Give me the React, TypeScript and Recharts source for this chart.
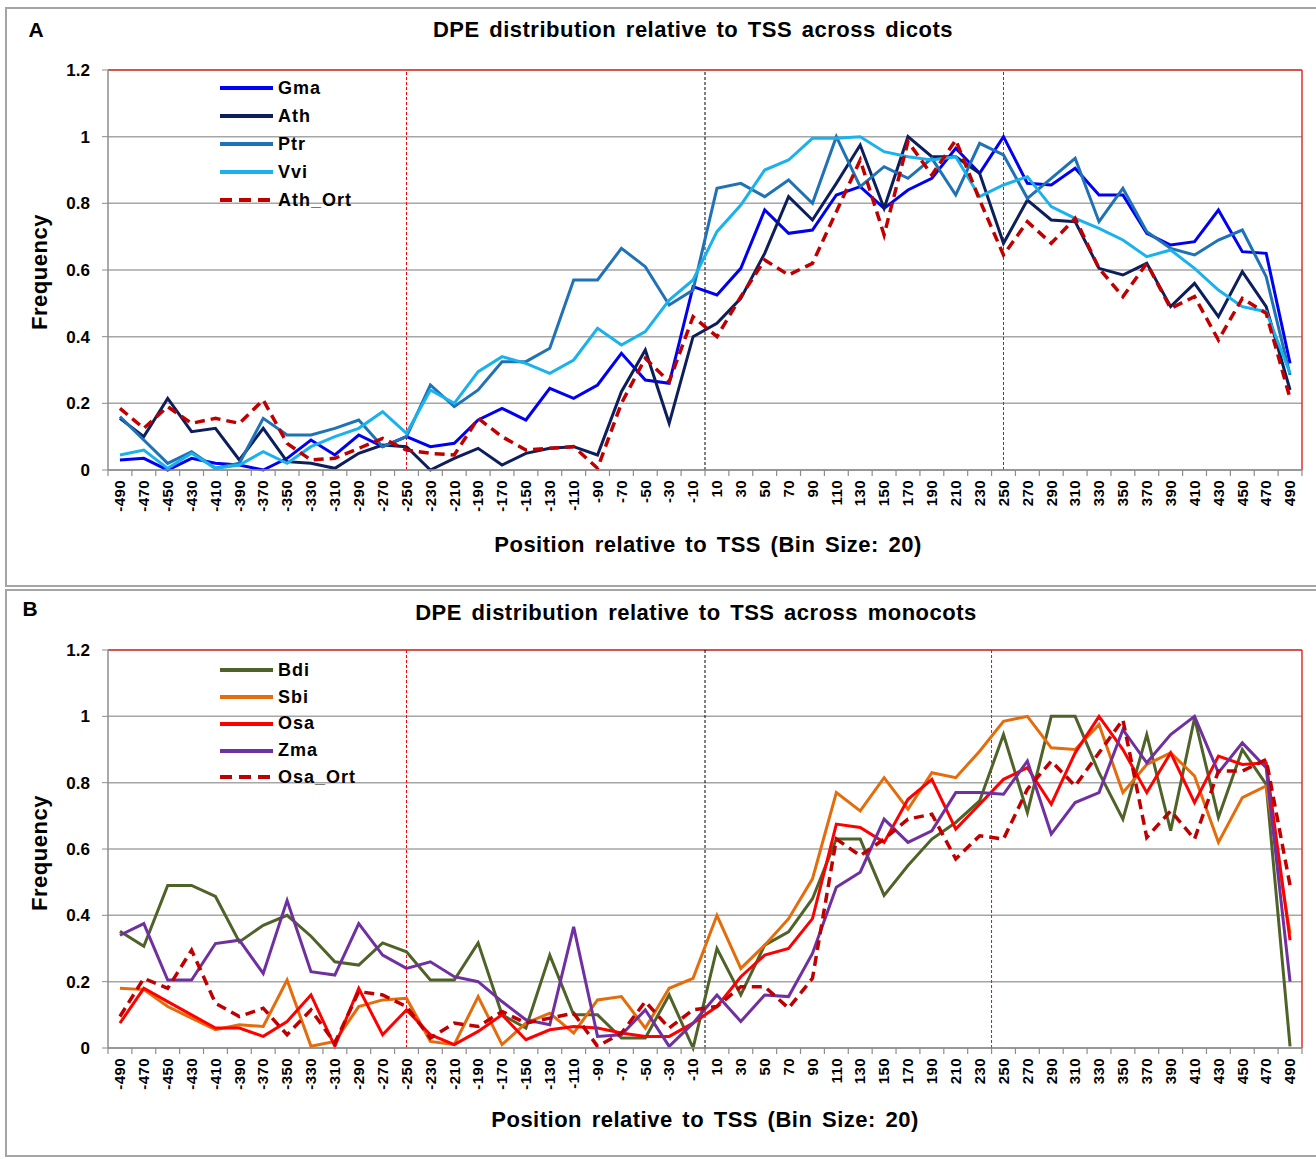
import { LineChart, Line, XAxis, YAxis, CartesianGrid, ReferenceLine, Legend } from 'recharts';

const FONT = '"Liberation Sans", Arial, sans-serif';

// bin centres, relative to TSS
const positions = [
  -490, -470, -450, -430, -410, -390, -370, -350, -330, -310, -290, -270, -250, -230, -210, -190, -170,
  -150, -130, -110, -90, -70, -50, -30, -10, 10, 30, 50, 70, 90, 110, 130, 150, 170, 190, 210, 230, 250,
  270, 290, 310, 330, 350, 370, 390, 410, 430, 450, 470, 490,
];

// panel A - dicots
const gma = [
  0.03, 0.035, 0.0, 0.035, 0.02, 0.015, 0.0, 0.035, 0.09, 0.045, 0.105, 0.07, 0.1, 0.07, 0.08, 0.15, 0.185,
  0.15, 0.245, 0.215, 0.255, 0.35, 0.27, 0.26, 0.55, 0.525, 0.605, 0.78, 0.71, 0.72, 0.825, 0.85, 0.785, 0.84,
  0.875, 0.965, 0.89, 1.0, 0.86, 0.855, 0.905, 0.825, 0.825, 0.71, 0.675, 0.685, 0.78, 0.655, 0.65, 0.32,
];
const ath = [
  0.155, 0.1, 0.215, 0.115, 0.125, 0.03, 0.125, 0.025, 0.02, 0.005, 0.05, 0.075, 0.07, 0.0, 0.035, 0.065, 0.015,
  0.05, 0.065, 0.07, 0.045, 0.235, 0.36, 0.14, 0.4, 0.44, 0.515, 0.65, 0.82, 0.75, 0.86, 0.975, 0.785, 1.0,
  0.94, 0.94, 0.89, 0.68, 0.81, 0.75, 0.745, 0.605, 0.585, 0.62, 0.49, 0.56, 0.46, 0.595, 0.49, 0.24,
];
const ptr = [
  0.16, 0.09, 0.02, 0.055, 0.005, 0.02, 0.155, 0.105, 0.105, 0.125, 0.15, 0.07, 0.1, 0.255, 0.19, 0.24, 0.325,
  0.325, 0.365, 0.57, 0.57, 0.665, 0.61, 0.495, 0.54, 0.845, 0.86, 0.82, 0.87, 0.8, 1.0, 0.85, 0.91, 0.875,
  0.935, 0.825, 0.98, 0.945, 0.815, 0.875, 0.935, 0.745, 0.845, 0.715, 0.665, 0.645, 0.69, 0.72, 0.58, 0.285,
];
const vvi = [
  0.045, 0.06, 0.005, 0.05, 0.005, 0.015, 0.055, 0.02, 0.07, 0.1, 0.125, 0.175, 0.11, 0.24, 0.2, 0.295, 0.34,
  0.32, 0.29, 0.33, 0.425, 0.375, 0.415, 0.51, 0.57, 0.715, 0.795, 0.9, 0.93, 0.995, 0.995, 1.0, 0.955, 0.94,
  0.93, 0.94, 0.82, 0.855, 0.88, 0.79, 0.755, 0.725, 0.69, 0.64, 0.66, 0.605, 0.54, 0.49, 0.475, 0.29,
];
const athOrt = [
  0.185, 0.125, 0.19, 0.14, 0.155, 0.14, 0.21, 0.08, 0.03, 0.035, 0.065, 0.095, 0.06, 0.05, 0.045, 0.155, 0.1,
  0.06, 0.065, 0.07, 0.005, 0.2, 0.335, 0.265, 0.46, 0.4, 0.52, 0.63, 0.585, 0.62, 0.775, 0.93, 0.705, 0.985,
  0.885, 0.99, 0.81, 0.645, 0.745, 0.68, 0.755, 0.605, 0.52, 0.62, 0.485, 0.52, 0.39, 0.515, 0.47, 0.215,
];

// panel B - monocots
const bdi = [
  0.352, 0.307, 0.49, 0.49, 0.457, 0.32, 0.37, 0.4, 0.337, 0.26, 0.25, 0.317, 0.29, 0.205, 0.205, 0.317, 0.1,
  0.06, 0.28, 0.1, 0.1, 0.03, 0.03, 0.16, 0.0, 0.3, 0.16, 0.31, 0.35, 0.45, 0.63, 0.63, 0.46, 0.55, 0.63,
  0.68, 0.745, 0.945, 0.71, 1.0, 1.0, 0.83, 0.69, 0.945, 0.655, 0.995, 0.695, 0.9, 0.795, 0.005,
];
const sbi = [
  0.18, 0.176, 0.125, 0.09, 0.055, 0.07, 0.065, 0.205, 0.005, 0.02, 0.125, 0.145, 0.15, 0.02, 0.01, 0.155, 0.01,
  0.075, 0.105, 0.045, 0.145, 0.155, 0.06, 0.18, 0.21, 0.4, 0.24, 0.31, 0.39, 0.51, 0.77, 0.715, 0.815, 0.72,
  0.83, 0.815, 0.895, 0.985, 1.0, 0.905, 0.9, 0.975, 0.77, 0.855, 0.89, 0.82, 0.62, 0.755, 0.79, 0.345,
];
const osa = [
  0.075, 0.18, 0.14, 0.1, 0.06, 0.06, 0.035, 0.08, 0.16, 0.005, 0.18, 0.04, 0.115, 0.04, 0.01, 0.05, 0.1,
  0.025, 0.055, 0.065, 0.06, 0.045, 0.035, 0.035, 0.075, 0.125, 0.215, 0.28, 0.3, 0.39, 0.675, 0.665, 0.62,
  0.75, 0.81, 0.66, 0.735, 0.81, 0.845, 0.735, 0.89, 1.0, 0.9, 0.77, 0.89, 0.74, 0.88, 0.855, 0.86, 0.325,
];
const zma = [
  0.34, 0.375, 0.205, 0.205, 0.315, 0.325, 0.225, 0.445, 0.23, 0.22, 0.375, 0.28, 0.24, 0.26, 0.215, 0.2, 0.14,
  0.085, 0.07, 0.365, 0.035, 0.04, 0.115, 0.005, 0.075, 0.16, 0.08, 0.16, 0.155, 0.285, 0.485, 0.53, 0.69,
  0.62, 0.655, 0.77, 0.77, 0.765, 0.865, 0.645, 0.74, 0.77, 0.96, 0.86, 0.945, 1.0, 0.83, 0.92, 0.845, 0.2,
];
const osaOrt = [
  0.095, 0.21, 0.18, 0.295, 0.135, 0.095, 0.12, 0.04, 0.115, 0.015, 0.17, 0.16, 0.125, 0.03, 0.075, 0.065, 0.11,
  0.075, 0.09, 0.105, 0.005, 0.045, 0.14, 0.06, 0.115, 0.125, 0.185, 0.185, 0.12, 0.21, 0.63, 0.58, 0.63, 0.69,
  0.705, 0.57, 0.64, 0.63, 0.78, 0.865, 0.79, 0.89, 0.99, 0.635, 0.715, 0.63, 0.835, 0.835, 0.87, 0.49,
];

const yTicks = [0, 0.2, 0.4, 0.6, 0.8, 1, 1.2];
const idxTicks = positions.map((_, i) => i);

type SeriesDef = { key: string; color: string; values: number[]; dashed?: boolean };

const dicotSeries: SeriesDef[] = [
  { key: 'Gma', color: '#0000F2', values: gma },
  { key: 'Ath', color: '#0D1E5C', values: ath },
  { key: 'Ptr', color: '#1F72B6', values: ptr },
  { key: 'Vvi', color: '#1AB2EC', values: vvi },
  { key: 'Ath_Ort', color: '#C00000', values: athOrt, dashed: true },
];

const monocotSeries: SeriesDef[] = [
  { key: 'Bdi', color: '#4F6228', values: bdi },
  { key: 'Sbi', color: '#E46C0A', values: sbi },
  { key: 'Osa', color: '#FF0000', values: osa },
  { key: 'Zma', color: '#7030A0', values: zma },
  { key: 'Osa_Ort', color: '#C00000', values: osaOrt, dashed: true },
];

const GRID = '#a6a6a6';
const AXIS = '#8c8c8c';
const BORDER_RED = '#E0302A';

function PositionTick(props: any) {
  const { x, y, payload, index, width, visibleTicksCount } = props;
  const count = visibleTicksCount || positions.length;
  const half = width ? width / count / 2 : 11.94;
  const axisY = y - 10;
  return (
    <g>
      <line x1={x - half} x2={x - half} y1={axisY} y2={axisY + 6} stroke={AXIS} strokeWidth={1.2} />
      {index === count - 1 && (
        <line x1={x + half} x2={x + half} y1={axisY} y2={axisY + 6} stroke={AXIS} strokeWidth={1.2} />
      )}
      <text
        x={x}
        y={y}
        transform={`rotate(-90, ${x}, ${y})`}
        textAnchor="end"
        dy="0.35em"
        fill="#000"
        fontFamily={FONT}
        fontWeight="bold"
        fontSize={15}
        letterSpacing={0.4}
      >
        {positions[payload.value]}
      </text>
    </g>
  );
}

// legend keeps the series order of the source figure
function SeriesLegend({ series, rowHeight }: any) {
  return (
    <div style={{ fontFamily: FONT, fontWeight: 'bold', fontSize: 18, color: '#000' }}>
      {series.map((def: SeriesDef) => (
        <div key={def.key} style={{ display: 'flex', alignItems: 'center', height: rowHeight }}>
          <svg width={55} height={8}>
            <line
              x1={0}
              x2={53}
              y1={4}
              y2={4}
              stroke={def.color}
              strokeWidth={4}
              strokeDasharray={def.dashed ? '12 7' : undefined}
            />
          </svg>
          <span style={{ marginLeft: 3, letterSpacing: 1 }}>{def.key}</span>
        </div>
      ))}
    </div>
  );
}

interface PanelProps {
  top: number;
  height: number;
  bottom: number;
  series: SeriesDef[];
  rightRed: number;
  legendTop: number;
  legendRow: number;
}

function Panel({ top, height, bottom, series, rightRed, legendTop, legendRow }: PanelProps) {
  const data = positions.map((pos, i) => {
    const row: Record<string, number> = { idx: i, pos };
    series.forEach((s) => {
      row[s.key] = s.values[i];
    });
    return row;
  });

  return (
    <div style={{ position: 'absolute', left: 0, top }}>
      <LineChart width={1316} height={height} data={data} margin={{ top: 70, right: 14, bottom, left: 48 }}>
        <CartesianGrid vertical={false} stroke={GRID} strokeWidth={1.5} />
        <XAxis
          type="number"
          dataKey="idx"
          domain={[-0.5, 49.5]}
          ticks={idxTicks}
          interval={0}
          tick={(p: any) => <PositionTick {...p} />}
          tickLine={false}
          tickSize={0}
          tickMargin={10}
          height={50}
          axisLine={{ stroke: AXIS, strokeWidth: 1.5 }}
        />
        <YAxis
          domain={[0, 1.2]}
          ticks={yTicks}
          width={60}
          tickSize={6}
          tickMargin={12}
          axisLine={{ stroke: AXIS, strokeWidth: 1.5 }}
          tickLine={{ stroke: AXIS }}
          tick={{ fontSize: 17, fontWeight: 'bold', fill: '#000', fontFamily: FONT }}
        />
        <ReferenceLine y={1.2} stroke={BORDER_RED} strokeWidth={1.5} />
        <ReferenceLine x={49.5} stroke={BORDER_RED} strokeWidth={1.5} />
        <ReferenceLine x={12} stroke="#FF0000" strokeWidth={1} strokeDasharray="3 2" />
        <ReferenceLine x={24.5} stroke="#000" strokeWidth={1} strokeDasharray="3 2" />
        <ReferenceLine x={rightRed} stroke="#FF0000" strokeWidth={1} strokeDasharray="3 2" />
        <Legend
          layout="vertical"
          align="center"
          verticalAlign="middle"
          itemSorter={null}
          wrapperStyle={{ left: 220, top: legendTop, width: 180 }}
          content={() => <SeriesLegend series={series} rowHeight={legendRow} />}
        />
        {series.map((s) => (
          <Line
            key={s.key}
            type="linear"
            dataKey={s.key}
            name={s.key}
            stroke={s.color}
            strokeWidth={s.dashed ? 3.5 : 3}
            strokeDasharray={s.dashed ? '10 6' : undefined}
            dot={false}
            activeDot={false}
            isAnimationActive={false}
          />
        ))}
      </LineChart>
    </div>
  );
}

const label: React.CSSProperties = {
  position: 'absolute',
  fontFamily: FONT,
  fontWeight: 'bold',
  color: '#000',
  whiteSpace: 'nowrap',
  transform: 'translate(-50%, -50%)',
};

const titleStyle: React.CSSProperties = { ...label, fontSize: 22, letterSpacing: 0.5, wordSpacing: 3 };

export default function App() {
  return (
    <div
      style={{
        position: 'absolute',
        left: 0,
        top: 0,
        width: 1316,
        height: 1159,
        background: '#fff',
        overflow: 'hidden',
      }}
    >
      <div style={{ position: 'absolute', left: 5, top: 7, width: 1320, height: 576, border: '2px solid #a5a5a5' }} />
      <div style={{ position: 'absolute', left: 5, top: 589, width: 1320, height: 564, border: '2px solid #a5a5a5' }} />

      <Panel top={0} height={590} bottom={70} series={dicotSeries} rightRed={37} legendTop={74} legendRow={28} />
      <Panel top={580} height={579} bottom={61} series={monocotSeries} rightRed={36.5} legendTop={77} legendRow={26.75} />

      <div style={{ ...label, fontSize: 21, left: 36, top: 30 }}>A</div>
      <div style={{ ...titleStyle, left: 693, top: 30 }}>DPE distribution relative to TSS across dicots</div>
      <div style={{ ...titleStyle, left: 708, top: 545 }}>Position relative to TSS (Bin Size: 20)</div>
      <div style={{ ...titleStyle, left: 40, top: 272, transform: 'translate(-50%, -50%) rotate(-90deg)' }}>Frequency</div>

      <div style={{ ...label, fontSize: 21, left: 30, top: 609 }}>B</div>
      <div style={{ ...titleStyle, left: 696, top: 613 }}>DPE distribution relative to TSS across monocots</div>
      <div style={{ ...titleStyle, left: 705, top: 1120 }}>Position relative to TSS (Bin Size: 20)</div>
      <div style={{ ...titleStyle, left: 40, top: 853, transform: 'translate(-50%, -50%) rotate(-90deg)' }}>Frequency</div>
    </div>
  );
}
